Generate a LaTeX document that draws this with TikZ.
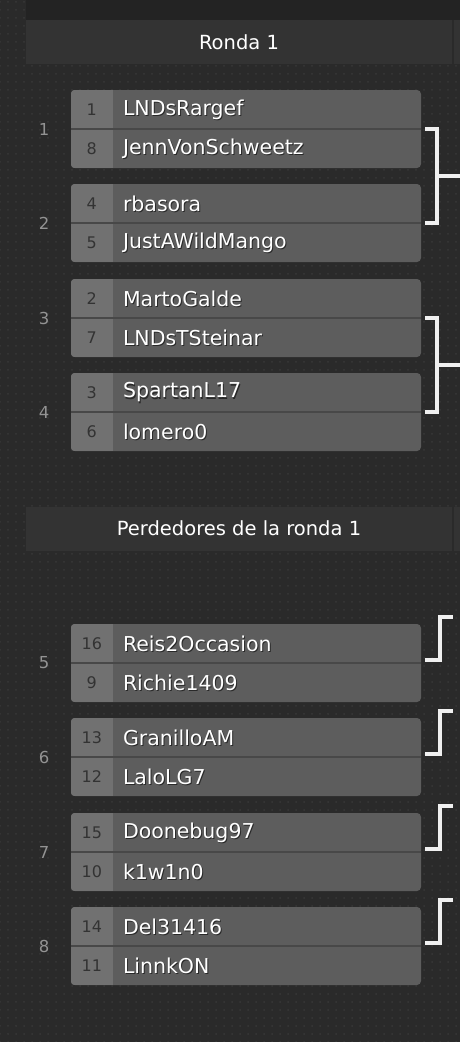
\documentclass[tikz,border=0pt]{standalone}
\usepackage{fontspec}
\setmainfont{DejaVu Sans}
\usetikzlibrary{calc,patterns}

\definecolor{bgc}{HTML}{2A2A2A}
\definecolor{dotc}{HTML}{383838}
\definecolor{stripc}{HTML}{232323}
\definecolor{hdrc}{HTML}{333333}
\definecolor{seedc}{HTML}{717171}
\definecolor{namec}{HTML}{5D5D5D}
\definecolor{divc}{HTML}{484848}
\definecolor{numc}{HTML}{939393}

\pgfdeclarepatternformonly{bgdots}{\pgfqpoint{-1pt}{-1pt}}{\pgfqpoint{1pt}{1pt}}{\pgfqpoint{8pt}{8pt}}{%
  \pgfpathcircle{\pgfqpoint{0pt}{0pt}}{1pt}\pgfusepath{fill}}

\tikzset{
  hdr/.style={fill=hdrc, minimum width=426pt, minimum height=44pt, inner sep=0pt,
    text=white, font=\fontsize{19.5}{19.5}\selectfont},
  matchbox/.style={fill=namec, rounded corners=4pt, minimum width=350pt,
    minimum height=78pt, inner sep=0pt},
  seedtxt/.style={text=black!80, inner sep=0pt, font=\fontsize{16}{16}\selectfont},
  nametxt/.style={text=white, inner sep=0pt, anchor=west, font=\fontsize{20.5}{20.5}\selectfont},
  nameshadow/.style={nametxt, text=black, opacity=.55},
  matchno/.style={text=numc, inner sep=0pt, font=\fontsize{16.5}{16.5}\selectfont},
  divline/.style={draw=divc, line width=1.5pt},
  bracket/.style={draw=white!94!black, line width=3.5pt},
}

% #1 id, #2 top, #3 match number, #4/#5 upper seed and name, #6/#7 lower seed and name
\newcommand{\brmatch}[7]{%
  \node[matchbox] (m#1) at (246,#2+39) {};
  \begin{scope}
    \clip[rounded corners=4pt] (m#1.north west) rectangle (m#1.south east);
    \fill[seedc] (m#1.north west) rectangle ++(42,78);
  \end{scope}
  \draw[divline] (m#1.west) -- (m#1.east);
  \node[seedtxt] (m#1sa) at ([xshift=21pt,yshift=19.5pt]m#1.west) {#4};
  \node[seedtxt] (m#1sb) at ([xshift=21pt,yshift=-19.5pt]m#1.west) {#6};
  \node[nameshadow] at ([xshift=53pt,yshift=18pt]m#1.west) {#5};
  \node[nametxt] (m#1a) at ([xshift=52pt,yshift=19.5pt]m#1.west) {#5};
  \node[nameshadow] at ([xshift=53pt,yshift=-21pt]m#1.west) {#7};
  \node[nametxt] (m#1b) at ([xshift=52pt,yshift=-19.5pt]m#1.west) {#7};
  \node[matchno] (n#1) at (44,#2+39) {#3};
}

\begin{document}
\begin{tikzpicture}[x=1pt,y=-1pt]
\useasboundingbox (0,0) rectangle (460,1042);
\fill[bgc] (0,0) rectangle (460,1042);
\fill[pattern=bgdots, pattern color=dotc] (0,0) rectangle (460,1042);
\fill[stripc] (26,0) rectangle (460,20);

% headers
\node[hdr] (h1) at (239,42) {Ronda 1};
\fill[hdrc] (453.5,20) rectangle (460,64);
\node[hdr] (h2) at (239,528.5) {Perdedores de la ronda 1};
\fill[hdrc] (453.5,506.5) rectangle (460,550.5);

% winners
\brmatch{1}{90}{1}{1}{LNDsRargef}{8}{JennVonSchweetz}
\brmatch{2}{184}{2}{4}{rbasora}{5}{JustAWildMango}
\brmatch{3}{279}{3}{2}{MartoGalde}{7}{LNDsTSteinar}
\brmatch{4}{373}{4}{3}{SpartanL17}{6}{lomero0}

% losers
\brmatch{5}{624}{5}{16}{Reis2Occasion}{9}{Richie1409}
\brmatch{6}{718}{6}{13}{GranilloAM}{12}{LaloLG7}
\brmatch{7}{813}{7}{15}{Doonebug97}{10}{k1w1n0}
\brmatch{8}{907}{8}{14}{Del31416}{11}{LinnkON}

% brackets
\draw[bracket] ([xshift=4pt]m1.east) -| ([xshift=16pt]m2.east) -- ([xshift=4pt]m2.east);
\coordinate (w1) at ($(m1.east)!.5!(m2.east)+(460-421,0)$);
\draw[bracket] ($(m1.east)!.5!(m2.east)+(16,0)$) -- (w1);
\draw[bracket] ([xshift=4pt]m3.east) -| ([xshift=16pt]m4.east) -- ([xshift=4pt]m4.east);
\coordinate (w2) at ($(m3.east)!.5!(m4.east)+(460-421,0)$);
\draw[bracket] ($(m3.east)!.5!(m4.east)+(16,0)$) -- (w2);

\foreach \m in {5,6,7,8}
  \draw[bracket] ([shift={(4pt,3pt)}]m\m.east) -- ++(15,0) -- ++(0,-43) -- ++(13,0);
\end{tikzpicture}
\end{document}
